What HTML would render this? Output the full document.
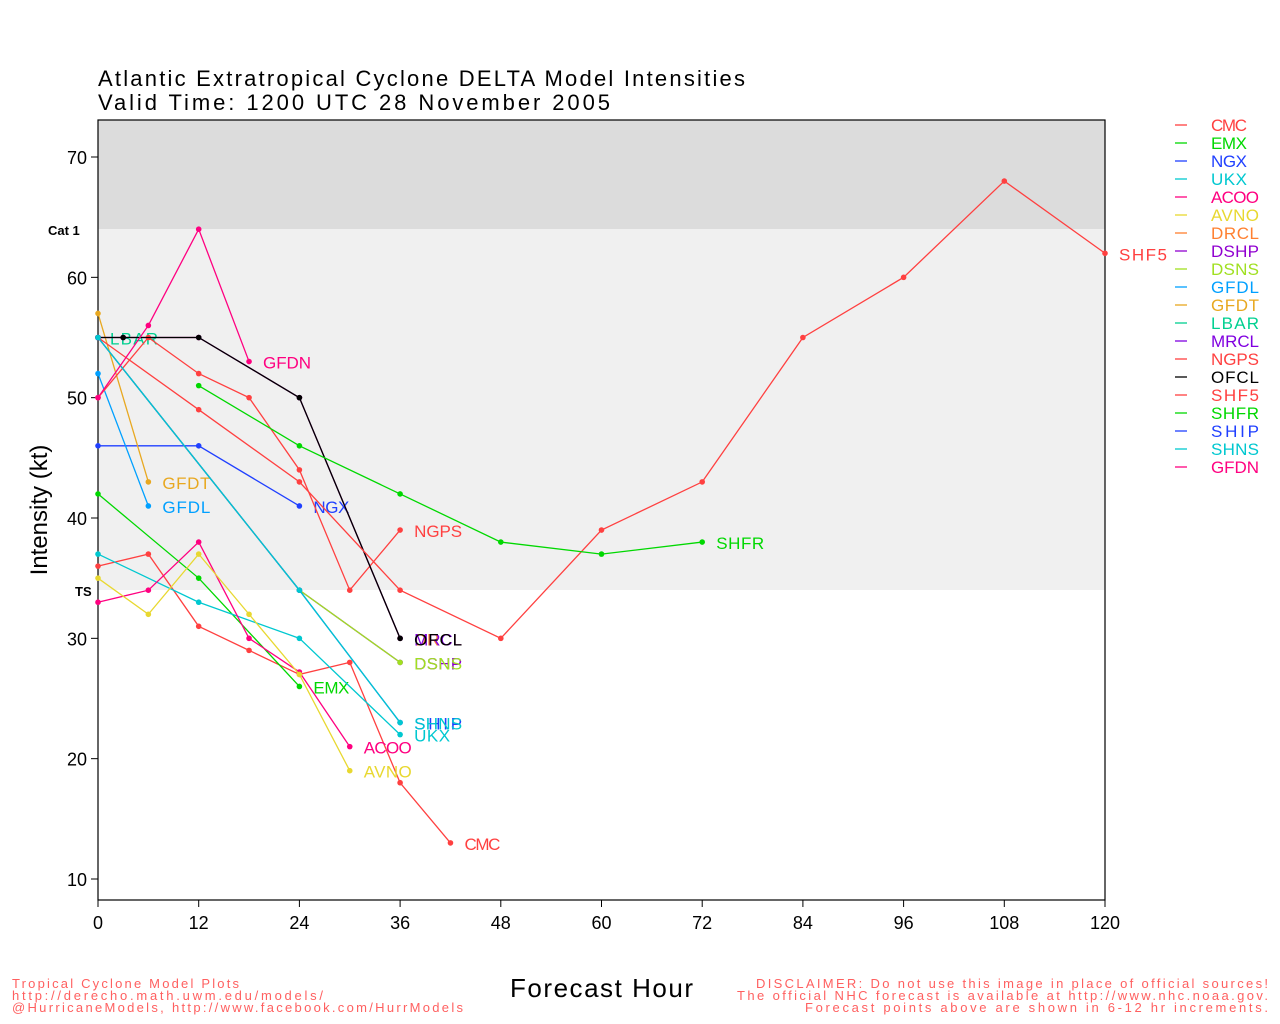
<!DOCTYPE html>
<html><head><meta charset="utf-8"><style>
html,body{margin:0;padding:0;background:#fff;width:1280px;height:1024px;overflow:hidden}
svg text{font-family:"Liberation Sans",sans-serif}
</style></head><body>
<svg id="s" width="1280" height="1024" xmlns="http://www.w3.org/2000/svg">
<rect x="98" y="120" width="1007" height="109" fill="#dcdcdc"/>
<rect x="98" y="229" width="1007" height="361" fill="#f0f0f0"/>
<rect x="98" y="120" width="1007" height="780" fill="none" stroke="#000" stroke-width="1.2"/>
<text x="98" y="86" font-size="22" fill="#000" textLength="647" lengthAdjust="spacing">Atlantic Extratropical Cyclone DELTA Model Intensities</text>
<text x="98" y="110" font-size="22" fill="#000" textLength="512" lengthAdjust="spacing">Valid Time: 1200 UTC 28 November 2005</text>
<text x="48" y="235" font-size="13" font-weight="bold">Cat 1</text>
<text x="75" y="596" font-size="13" font-weight="bold">TS</text>
<text transform="translate(47,510) rotate(-90)" font-size="24" text-anchor="middle">Intensity (kt)</text>
<text x="510" y="997" font-size="26" textLength="183" lengthAdjust="spacing">Forecast Hour</text>
<text x="12" y="988" font-size="13" fill="#ff6060" textLength="227" lengthAdjust="spacing">Tropical Cyclone Model Plots</text>
<text x="12" y="1000" font-size="13" fill="#ff6060" textLength="311" lengthAdjust="spacing">http://derecho.math.uwm.edu/models/</text>
<text x="12" y="1012" font-size="13" fill="#ff6060" textLength="451" lengthAdjust="spacing">@HurricaneModels, http://www.facebook.com/HurrModels</text>
<text x="756" y="988" font-size="13" fill="#ff6060" textLength="512" lengthAdjust="spacing">DISCLAIMER: Do not use this image in place of official sources!</text>
<text x="737" y="1000" font-size="13" fill="#ff6060" textLength="531" lengthAdjust="spacing">The official NHC forecast is available at http://www.nhc.noaa.gov.</text>
<text x="805" y="1012" font-size="13" fill="#ff6060" textLength="463" lengthAdjust="spacing">Forecast points above are shown in 6-12 hr increments.</text>
<g id="g"></g>
</svg>
<script>
var g=document.getElementById('g'),NS='http://www.w3.org/2000/svg';
function X(h){return 98+h*1007/120}function Y(v){return 879-(v-10)*722/60}
function el(t,a,txt){var e=document.createElementNS(NS,t);for(var k in a)e.setAttribute(k,a[k]);if(txt)e.textContent=txt;g.appendChild(e);return e}
for(var v=10;v<=70;v+=10){el('line',{x1:91,x2:98,y1:Y(v),y2:Y(v),stroke:'#000'});el('text',{x:87,y:Y(v)+7,'font-size':18,'text-anchor':'end'},''+v)}
for(var h=0;h<=120;h+=12){el('line',{x1:X(h),x2:X(h),y1:900,y2:907,stroke:'#000'});el('text',{x:X(h),y:929,'font-size':18,'text-anchor':'middle'},''+h)}
var S=[
['CMC','#ff4040',[[0,36],[6,37],[12,31],[18,29],[24,27],[30,28],[36,18],[42,13]]],
['EMX','#00d800',[[0,42],[12,35],[24,26]]],
['NGX','#2040ff',[[0,46],[12,46],[24,41]]],
['UKX','#00c8d0',[[0,37],[12,33],[24,30],[36,22]]],
['ACOO','#ff0080',[[0,33],[6,34],[12,38],[18,30],[24,27.2],[30,21]]],
['AVNO','#e8d830',[[0,35],[6,32],[12,37],[18,32],[24,27],[30,19]]],
['DRCL','#ff8030',[[0,55],[3,55],[12,55],[24,50],[36,30]]],
['DSHP','#9000d0',[[0,55],[24,34],[36,28]]],
['DSNS','#a0e020',[[0,55],[24,34],[36,28]]],
['GFDL','#00a0ff',[[0,52],[6,41]]],
['GFDT','#e8a820',[[0,57],[6,43]]],
['LBAR','#00d090',[[0,55]]],
['MRCL','#8000e0',[[0,55],[3,55],[12,55],[24,50],[36,30]]],
['NGPS','#ff4040',[[0,50],[6,55],[12,52],[18,50],[24,44],[30,34],[36,39]]],
['OFCL','#000000',[[0,55],[3,55],[12,55],[24,50],[36,30]]],
['SHF5','#ff4040',[[0,55],[12,49],[24,43],[36,34],[48,30],[60,39],[72,43],[84,55],[96,60],[108,68],[120,62]]],
['SHFR','#00d800',[[12,51],[24,46],[36,42],[48,38],[60,37],[72,38]]],
['SHIP','#2040ff',[[0,55],[24,34],[36,23]]],
['SHNS','#00c8d0',[[0,55],[24,34],[36,23]]],
['GFDN','#ff0080',[[0,50],[6,56],[12,64],[18,53]]]];
S.forEach(function(s,i){
 var p=s[2],pts=p.map(function(q){return X(q[0])+','+Y(q[1])}).join(' ');
 if(p.length>1)el('polyline',{points:pts,fill:'none',stroke:s[1],'stroke-width':1.3});
 p.forEach(function(q){el('circle',{cx:X(q[0]),cy:Y(q[1]),r:2.8,fill:s[1]})});
 var l=p[p.length-1],lx=X(l[0])+14,ly=Y(l[1])+7;
 if(s[0]=='LBAR'){lx=110;ly=Y(55)+7}
 var w=s[0].length*12;
 el('text',{x:lx,y:ly,'font-size':17,fill:s[1],textLength:w,lengthAdjust:'spacing'},s[0]);
 var yy=125+i*18;
 el('line',{x1:1175,x2:1187,y1:yy,y2:yy,stroke:s[1],'stroke-width':1.3});
 el('text',{x:1211,y:yy+6,'font-size':17,fill:s[1],textLength:w,lengthAdjust:'spacing'},s[0]);
});
</script>
</body></html>
